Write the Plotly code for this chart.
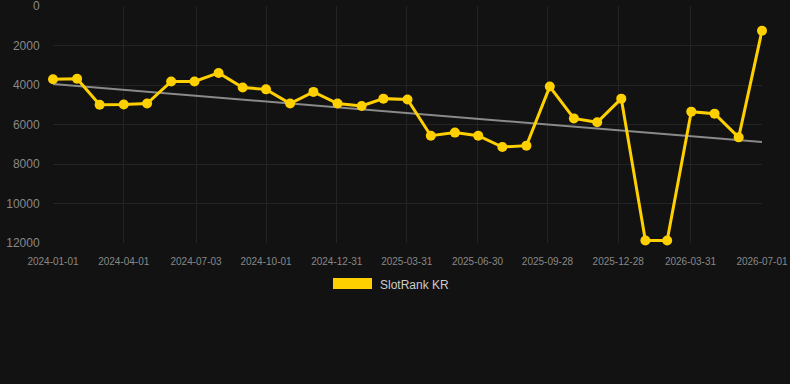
import plotly.graph_objects as go
import pandas as pd

dates = pd.date_range("2024-01-01", "2026-07-01", freq="MS").strftime("%Y-%m-%d").tolist()
rank_kr = [3710, 3680, 5000, 4990, 4940, 3820, 3820, 3390, 4130, 4220,
           4940, 4350, 4940, 5060, 4690, 4730, 6570, 6410, 6570, 7140,
           7070, 4080, 5690, 5890, 4690, 11870, 11870, 5350, 5450, 6650,
           1250]
trend_dates = ["2024-01-01", "2026-07-01"]
trend_vals = [3950, 6890]
tick_dates = ["2024-01-01", "2024-04-01", "2024-07-03", "2024-10-01", "2024-12-31",
              "2025-03-31", "2025-06-30", "2025-09-28", "2025-12-28", "2026-03-31",
              "2026-07-01"]
y_ticks = [0, 2000, 4000, 6000, 8000, 10000, 12000]
y_labels = ["0", "2000", "4000", "6000", "8000", "10000", "12000"]

BG = "#121212"
YEL = "#FFD000"
FONT = "Liberation Sans, Arial, sans-serif"

fig = go.Figure()
fig.add_trace(go.Scatter(x=trend_dates, y=trend_vals, mode="lines",
                         line=dict(color="#8a8a8a", width=2), showlegend=False,
                         hoverinfo="skip"))
fig.add_trace(go.Scatter(x=dates, y=rank_kr, mode="lines+markers", name="SlotRank KR",
                         line=dict(color=YEL, width=3),
                         marker=dict(color=YEL, size=10), showlegend=False,
                         cliponaxis=False))

# legend drawn as box + text (Chart.js style)
L, R, T, B = 53, 762, 6, 243
W, H = R - L, B - T
def px(x): return (x - L) / W
def py(y): return (B - y) / H
fig.add_shape(type="rect", xref="paper", yref="paper",
              x0=px(333), x1=px(372), y0=py(289), y1=py(278),
              fillcolor=YEL, line=dict(width=0))
fig.add_annotation(xref="paper", yref="paper", x=px(378), y=py(284.5),
                   xanchor="left", yanchor="middle", showarrow=False,
                   text="SlotRank KR", font=dict(family=FONT, size=12, color="#cccccc"))

fig.update_layout(
    width=790, height=384,
    margin=dict(l=L, r=790 - R, t=T, b=384 - B, autoexpand=False),
    paper_bgcolor=BG, plot_bgcolor=BG,
    font=dict(family=FONT, color="#888888"),
    showlegend=False,
)
fig.update_xaxes(type="date", range=["2024-01-01", "2026-07-01"],
                 tickvals=tick_dates, ticktext=tick_dates,
                 tickfont=dict(size=10, color="#888888"),
                 showgrid=True, gridcolor="#232323", gridwidth=1,
                 zeroline=False, showline=False, automargin=False,
                 ticklabeloverflow="allow",
                 ticks="outside", ticklen=9, tickcolor="rgba(0,0,0,0)")
fig.update_yaxes(range=[12000, 0], tickvals=y_ticks, ticktext=y_labels,
                 tickfont=dict(size=12, color="#888888"),
                 showgrid=True, gridcolor="#232323", gridwidth=1,
                 zeroline=False, showline=False, automargin=False,
                 ticklabeloverflow="allow",
                 ticks="outside", ticklen=10, tickcolor="rgba(0,0,0,0)")

fig.write_html("out.html")
